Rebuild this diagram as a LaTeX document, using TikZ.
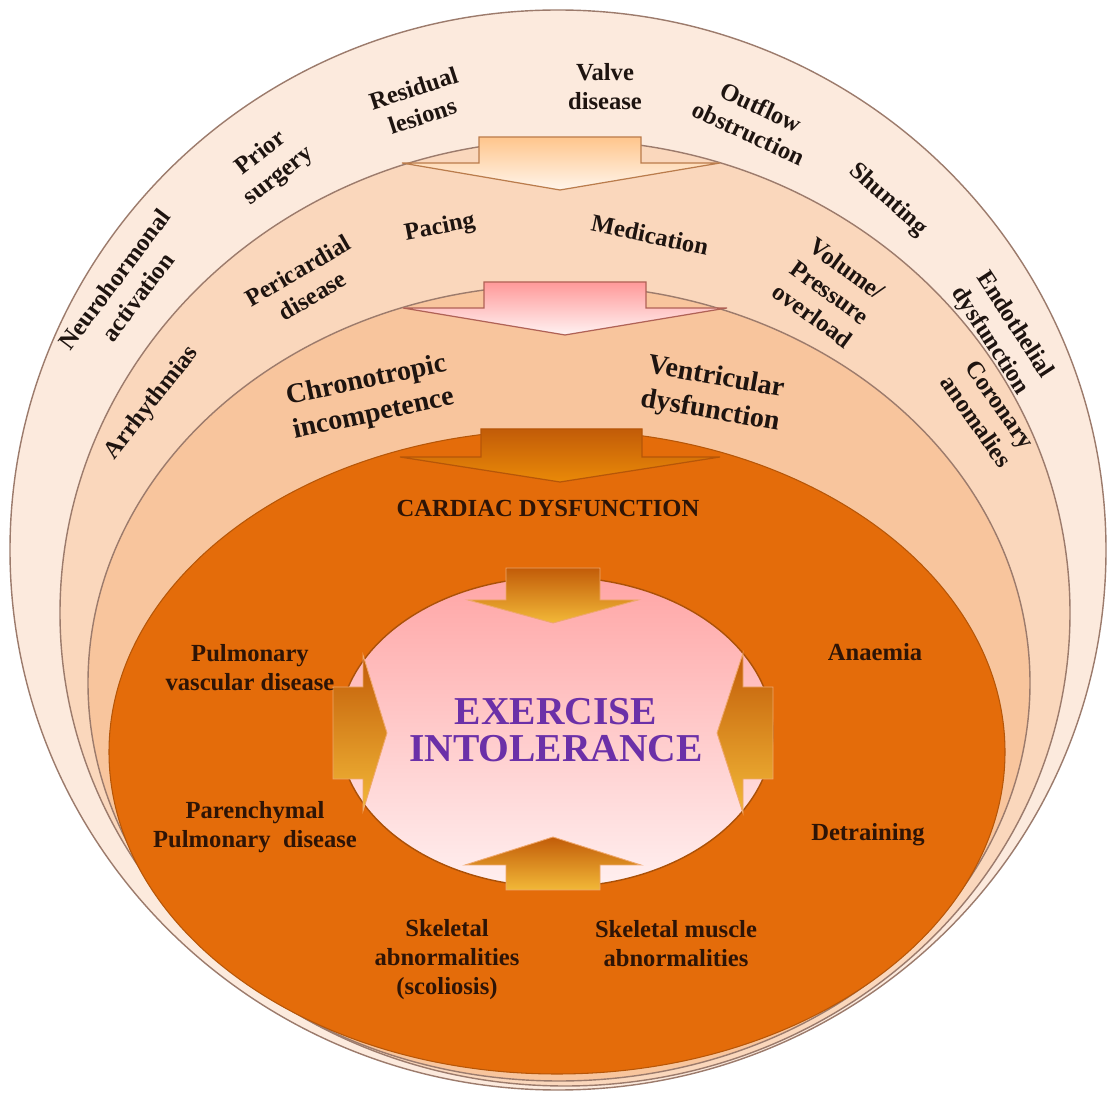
\documentclass[tikz,border=0pt]{standalone}
\usepackage{fontspec}
\setmainfont{Liberation Serif}
\definecolor{bandA}{HTML}{FCEADD}
\definecolor{bandB}{HTML}{FAD7BC}
\definecolor{bandC}{HTML}{F8C59D}
\definecolor{core}{HTML}{E46C0A}
\definecolor{rim}{HTML}{9C7B6C}
\definecolor{txt}{HTML}{1E1410}
\definecolor{coretxt}{HTML}{2E1406}
\definecolor{purp}{HTML}{6B30A8}
\tikzset{
  lbl/.style={font=\fontsize{14}{16.5}\selectfont\bfseries,align=center,text=txt,inner sep=0pt},
  biglbl/.style={lbl,font=\fontsize{16}{19.5}\selectfont\bfseries},
  corelbl/.style={lbl,text=coretxt},
  band/.style={draw=rim,line width=.8pt},
  inarrow/.style={draw=core!60!white,line width=.5pt,top color=core!85!black,bottom color=core!60!yellow!80!white},
}
\begin{document}
\begin{tikzpicture}[x=.02cm,y=-.02cm]
\useasboundingbox[fill=white](0,0)rectangle(1110,1094);
%bands
\draw[band,fill=bandA](558,550)ellipse[x radius=548,y radius=540];
\draw[band,fill=bandB](565,613)ellipse[x radius=505,y radius=473];
\draw[band,fill=bandC](559,683)ellipse[x radius=471,y radius=398];
\draw[draw=core!80!black,line width=.6pt,fill=core](557,752)ellipse[x radius=448,y radius=322];
%arrow 1
\begin{scope}[shift={(560,163)}]
\draw[draw=rim!70!orange,line width=.7pt,top color=orange!45!white,bottom color=orange!8!white]
 (-81,-26)--(81,-26)--(81,0)--(160,0)--(0,27)--(-158,0)--(-81,0)--cycle;
\end{scope}
%arrow 2
\begin{scope}[shift={(565,308)}]
\draw[draw=rim!80!red,line width=.7pt,top color=red!40!white,bottom color=red!5!white]
 (-81,-26)--(81,-26)--(81,0)--(162,0)--(0,27)--(-162,0)--(-81,0)--cycle;
\end{scope}
%arrow 3
\begin{scope}[shift={(560,457)}]
\draw[draw=core!80!black,line width=.7pt,top color=core!85!black,bottom color=core!80!yellow]
 (-79,-28)--(82,-28)--(82,0)--(160,0)--(0,25)--(-160,0)--(-79,0)--cycle;
\end{scope}
%exercise intolerance
\draw[draw=core!75!black,line width=.8pt,top color=red!35!white,bottom color=red!6!white](556,732)ellipse[x radius=217,y radius=155];
\begin{scope}[shift={(553,600)}]
\draw[inarrow](-47,-32)--(47,-32)--(47,0)--(85,0)--(0,23)--(-85,0)--(-47,0)--cycle;
\end{scope}
\begin{scope}[shift={(553,865)},rotate=180]
\draw[inarrow](-47,-25)--(47,-25)--(47,0)--(88,0)--(0,28)--(-88,0)--(-47,0)--cycle;
\end{scope}
\begin{scope}[shift={(363,733)},rotate=90]
\draw[inarrow](-46,-30)--(46,-30)--(46,0)--(78,0)--(0,24)--(-78,0)--(-46,0)--cycle;
\end{scope}
\begin{scope}[shift={(743,733)},rotate=-90]
\draw[inarrow](-46,-30)--(46,-30)--(46,0)--(80,0)--(0,26)--(-80,0)--(-46,0)--cycle;
\end{scope}
%outer band labels
\node[lbl,rotate=53](neuro)at(126,288){Neurohormonal\\activation};
\node[lbl,rotate=38](prior)at(270,165){Prior\\surgery};
\node[lbl,rotate=18](resid)at(418,102){Residual\\lesions};
\node[lbl](valve)at(605,87){Valve\\disease};
\node[lbl,rotate=-25](outflow)at(755,120){Outflow\\obstruction};
\node[lbl,rotate=-42](shunt)at(888,200){Shunting};
\node[lbl,rotate=-57](endo)at(1002,333){Endothelial\\dysfunction};
%second band labels
\node[lbl,rotate=52](arrhy)at(152,403){Arrhythmias};
\node[lbl,rotate=30](peri)at(305,283){Pericardial\\disease};
\node[lbl,rotate=11](pacing)at(440,228){Pacing};
\node[lbl,rotate=-12](medic)at(650,235){Medication};
\node[lbl,rotate=-36](volume)at(830,292){Volume/\\Pressure\\overload};
\node[lbl,rotate=-55](coron)at(988,413){Coronary\\anomalies};
%third band labels
\node[biglbl,rotate=12](chrono)at(370,398){Chronotropic\\incompetence};
\node[biglbl,rotate=-10](ventr)at(713,395){Ventricular\\dysfunction};
%core labels
\node[corelbl](cardiac)at(548,508){CARDIAC DYSFUNCTION};
\node[corelbl](pulmvasc)at(250,668){Pulmonary\\vascular disease};
\node[corelbl](parench)at(255,827){Parenchymal\\Pulmonary~ disease};
\node[corelbl](skeletal)at(447,960){Skeletal\\abnormalities\\(scoliosis)};
\node[corelbl](muscle)at(676,944){Skeletal muscle\\abnormalities};
\node[corelbl](anaemia)at(875,652){Anaemia};
\node[corelbl](detrain)at(868,835){Detraining};
\node[lbl,text=purp,font=\fontsize{22.5}{21}\selectfont\bfseries](exercise)at(556,730){EXERCISE\\INTOLERANCE};
\end{tikzpicture}
\end{document}
